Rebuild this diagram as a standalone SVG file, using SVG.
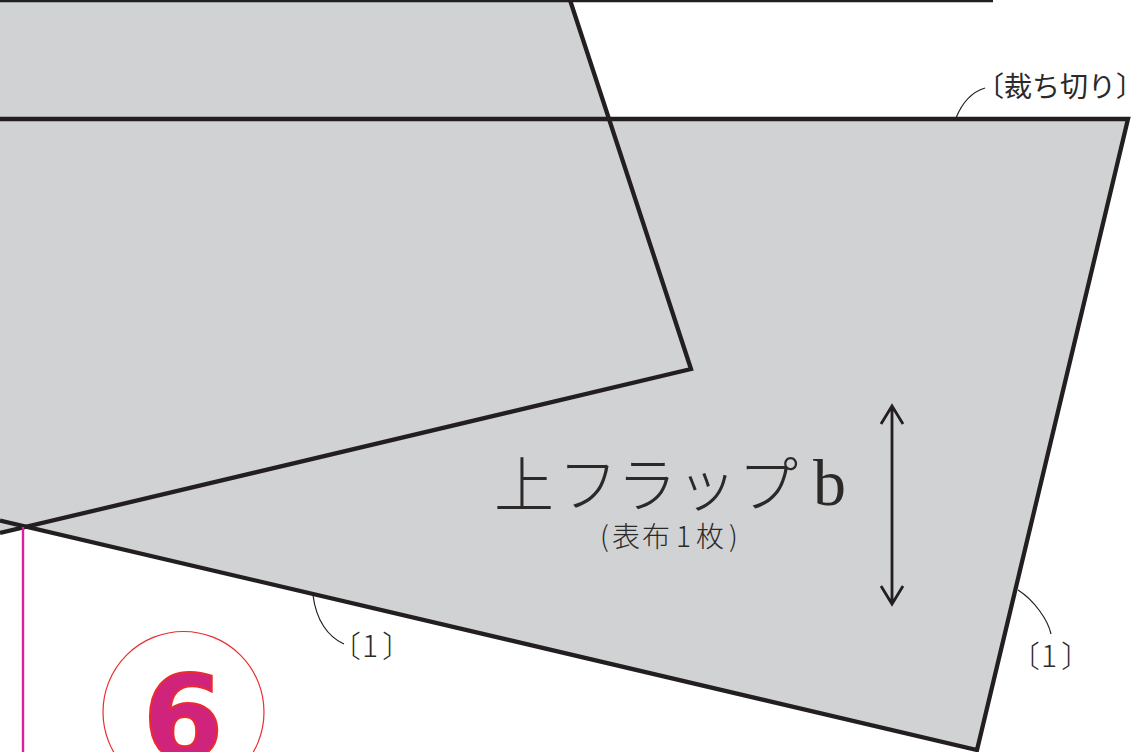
<svg xmlns="http://www.w3.org/2000/svg" width="1136" height="752" viewBox="0 0 1136 752">
<style>
.cjk{font-family:"Noto Sans CJK JP","Noto Sans",sans-serif;fill:#2b2a29}
.edge{fill:none;stroke:#231f20;stroke-width:4.300;stroke-linejoin:miter}
.lead{fill:none;stroke:#231f20;stroke-width:1.2}
.arr{fill:none;stroke:#231f20;stroke-width:2.8}
</style>
<g id="flap-b">
<polygon points="0,119 1128,119 977,750 0,520.5" fill="#d1d2d4"/>
<polygon points="0,0 570,0 691,369 0,533" fill="#d1d2d4"/>
</g>
<g id="connectors">
<path class="edge" d="M0,119H1128L977,750L0,520.5"/>
<path class="edge" style="stroke-width:2.5" d="M0,1H993"/>
<path class="edge" d="M570,0L691,369L0,533"/>
<path d="M23,527V752" fill="none" stroke="#e0209b" stroke-width="2.4"/>
<path class="lead" d="M956,118C962,103 972,92 985,88"/>
<path class="lead" d="M313,595C316,620 328,637 344,644"/>
<path class="lead" d="M1018,590C1034,600 1048,620 1051,634"/>
<path class="arr" d="M892,406V604M881,424L892,406L903,424M881,586L892,604L903,586"/>
</g>
<g id="label-cut"><text class="cjk" x="976" y="97" font-size="28" font-weight="400">〔裁ち切り〕</text></g>
<g id="label-flap">
<text class="cjk" x="494 558 617 677 738" y="507" font-size="60" font-weight="300">上フラップ</text>
<text x="813" y="505" font-size="66" font-family="'Liberation Serif',serif" fill="#2b2a29">b</text>
<text class="cjk" x="600 612 642 676 696 729" y="547" font-size="28" font-weight="300">(表布1枚)</text>
</g>
<g id="label-1a"><text class="cjk" x="331 362 382" y="657" font-size="30" font-weight="300">〔1〕</text></g>
<g id="label-1b"><text class="cjk" x="1010 1041 1061" y="667" font-size="30" font-weight="300">〔1〕</text></g>
<g id="step-6">
<circle cx="183.500" cy="712" r="80.500" fill="none" stroke="#ed2a2e" stroke-width="1.200"/>
<text x="183" y="758" text-anchor="middle" font-size="116" font-family="'DejaVu Sans',sans-serif" font-weight="700" fill="#d0247c" stroke="#ed2a2e" stroke-width="2">6</text>
</g>
</svg>
